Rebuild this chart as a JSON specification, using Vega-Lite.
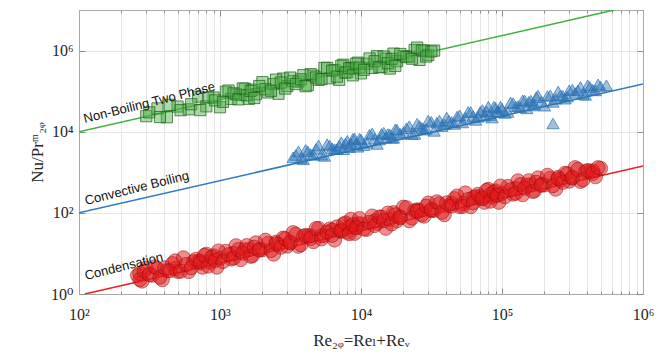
{
  "$schema": "https://vega.github.io/schema/vega-lite/v6.json",
  "width": 564,
  "height": 284,
  "autosize": {"type": "none"},
  "padding": {"left": 79, "top": 10, "right": 26, "bottom": 65},
  "background": "white",
  "config": {
    "view": {"stroke": "#a8a8a8", "strokeWidth": 1},
    "axis": {
      "domainColor": "#a8a8a8",
      "tickColor": "#8c8c8c",
      "gridColor": "#e6e6e6",
      "labelFont": "Liberation Serif, DejaVu Serif, serif",
      "labelFontSize": 16,
      "labelColor": "#262626",
      "titleFont": "Liberation Serif, DejaVu Serif, serif",
      "titleFontSize": 17,
      "titleFontWeight": "normal",
      "titleColor": "#262626",
      "labelOverlap": false,
      "labelFlush": false
    }
  },
  "datasets": {
    "lines": [
      {"s": "g", "x": 100, "y": 10000},
      {"s": "g", "x": 625000, "y": 10000000},
      {"s": "b", "x": 100, "y": 100},
      {"s": "b", "x": 1000000, "y": 150000},
      {"s": "r", "x": 110, "y": 1},
      {"s": "r", "x": 1000000, "y": 1430}
    ],
    "labels": [
      {"t": "Non-Boiling Two Phase", "x": 110, "y": 16400},
      {"t": "Convective Boiling", "x": 112, "y": 156},
      {"t": "Condensation", "x": 112, "y": 2.2}
    ],
    "cond": [
      {"x": 260, "y": 2.89}, {"x": 280, "y": 2.08}, {"x": 300, "y": 4.36}, {"x": 330, "y": 2.9}, {"x": 360, "y": 4.22}, {"x": 390, "y": 2.25}, {"x": 420, "y": 3.78}, {"x": 460, "y": 5.62}, {"x": 500, "y": 3.61}, {"x": 550, "y": 7.79}, {"x": 600, "y": 3.57}, {"x": 650, "y": 6.28}, {"x": 700, "y": 6.37}, {"x": 750, "y": 4.57}, {"x": 800, "y": 9.56}, {"x": 850, "y": 6.18}, {"x": 900, "y": 8.77}, {"x": 950, "y": 4.58},
      {"x": 1000, "y": 7.57}, {"x": 1100, "y": 11.3}, {"x": 1200, "y": 7.27}, {"x": 1300, "y": 15.5}, {"x": 1400, "y": 7.04}, {"x": 1500, "y": 12.3}, {"x": 1600, "y": 12.4}, {"x": 1700, "y": 8.8}, {"x": 1800, "y": 18.3}, {"x": 2000, "y": 12.3}, {"x": 2200, "y": 17.9}, {"x": 2400, "y": 9.61}, {"x": 2600, "y": 16.3}, {"x": 2800, "y": 23.8}, {"x": 3000, "y": 15.1}, {"x": 3300, "y": 32.6}, {"x": 3600, "y": 15.0}, {"x": 3900, "y": 26.3}, {"x": 4200, "y": 26.7}, {"x": 4600, "y": 19.5}, {"x": 5000, "y": 41.4}, {"x": 5500, "y": 27.5}, {"x": 6000, "y": 40.0}, {"x": 6500, "y": 21.3}, {"x": 7000, "y": 35.9}, {"x": 7500, "y": 52.4}, {"x": 8000, "y": 33.2}, {"x": 8500, "y": 69.6}, {"x": 9000, "y": 31.2}, {"x": 9500, "y": 53.6},
      {"x": 10000, "y": 53.5}, {"x": 11000, "y": 39.2}, {"x": 12000, "y": 83.5}, {"x": 13000, "y": 54.9}, {"x": 14000, "y": 78.8}, {"x": 15000, "y": 41.6}, {"x": 16000, "y": 69.6}, {"x": 17000, "y": 101}, {"x": 18000, "y": 63.5}, {"x": 20000, "y": 138}, {"x": 22000, "y": 63.7}, {"x": 24000, "y": 113}, {"x": 26000, "y": 115}, {"x": 28000, "y": 82.8}, {"x": 30000, "y": 174}, {"x": 33000, "y": 115}, {"x": 36000, "y": 168}, {"x": 39000, "y": 89.5}, {"x": 42000, "y": 151}, {"x": 46000, "y": 224}, {"x": 50000, "y": 144}, {"x": 55000, "y": 310}, {"x": 60000, "y": 142}, {"x": 65000, "y": 250}, {"x": 70000, "y": 254}, {"x": 75000, "y": 182}, {"x": 80000, "y": 381}, {"x": 85000, "y": 246}, {"x": 90000, "y": 349}, {"x": 95000, "y": 182},
      {"x": 100000, "y": 301}, {"x": 110000, "y": 448}, {"x": 120000, "y": 289}, {"x": 130000, "y": 617}, {"x": 140000, "y": 280}, {"x": 150000, "y": 487}, {"x": 160000, "y": 491}, {"x": 170000, "y": 350}, {"x": 180000, "y": 727}, {"x": 200000, "y": 487}, {"x": 220000, "y": 712}, {"x": 240000, "y": 382}, {"x": 260000, "y": 647}, {"x": 280000, "y": 947}, {"x": 300000, "y": 602}, {"x": 330000, "y": 1298}, {"x": 360000, "y": 596}, {"x": 390000, "y": 1047}, {"x": 420000, "y": 1062}, {"x": 460000, "y": 776}, {"x": 500000, "y": 1250},
      {"x": 270, "y": 3.19}, {"x": 480, "y": 4.21}, {"x": 725, "y": 6.44},
      {"x": 1250, "y": 9.96}, {"x": 1900, "y": 12.6}, {"x": 2500, "y": 18.9}, {"x": 3150, "y": 18.0}, {"x": 4400, "y": 27.2}, {"x": 5250, "y": 27.1}, {"x": 6250, "y": 37.7}, {"x": 7250, "y": 35.1}, {"x": 8250, "y": 45.0}, {"x": 9250, "y": 44.9},
      {"x": 12500, "y": 62.9}, {"x": 19000, "y": 79.9}, {"x": 25000, "y": 119}, {"x": 31500, "y": 114}, {"x": 44000, "y": 172}, {"x": 52500, "y": 171}, {"x": 62500, "y": 238}, {"x": 72500, "y": 221}, {"x": 82500, "y": 284}, {"x": 92500, "y": 284},
      {"x": 125000, "y": 396}, {"x": 190000, "y": 503}, {"x": 250000, "y": 752}, {"x": 315000, "y": 716}, {"x": 440000, "y": 1083},
      {"x": 270, "y": 2.26}, {"x": 290, "y": 3.66}, {"x": 315, "y": 3.0}, {"x": 345, "y": 4.69}, {"x": 375, "y": 2.59}, {"x": 405, "y": 4.41}, {"x": 440, "y": 3.73}, {"x": 480, "y": 6.53}, {"x": 525, "y": 3.62}, {"x": 575, "y": 5.35}, {"x": 625, "y": 4.42}, {"x": 675, "y": 7.19}, {"x": 725, "y": 5.85}, {"x": 775, "y": 8.95}, {"x": 825, "y": 4.87}, {"x": 875, "y": 8.16}, {"x": 925, "y": 6.76}, {"x": 975, "y": 11.5},
      {"x": 1050, "y": 6.3}, {"x": 1150, "y": 9.31}, {"x": 1250, "y": 7.7}, {"x": 1350, "y": 12.5}, {"x": 1450, "y": 10.2}, {"x": 1550, "y": 15.6}, {"x": 1650, "y": 8.48}, {"x": 1750, "y": 14.2}, {"x": 1900, "y": 12.0}, {"x": 2100, "y": 21.2}, {"x": 2300, "y": 11.8}, {"x": 2500, "y": 17.3}, {"x": 2700, "y": 14.2}, {"x": 2900, "y": 23.1}, {"x": 3150, "y": 19.0}, {"x": 3450, "y": 29.6}, {"x": 3750, "y": 16.4}, {"x": 4050, "y": 27.8}, {"x": 4400, "y": 23.5}, {"x": 4800, "y": 41.2}, {"x": 5250, "y": 22.8}, {"x": 5750, "y": 33.7}, {"x": 6250, "y": 27.9}, {"x": 6750, "y": 45.3}, {"x": 7250, "y": 36.9}, {"x": 7750, "y": 56.5}, {"x": 8250, "y": 30.7}, {"x": 8750, "y": 51.5}, {"x": 9250, "y": 42.6}, {"x": 9750, "y": 72.5},
      {"x": 10500, "y": 39.8}, {"x": 11500, "y": 58.8}, {"x": 12500, "y": 48.6}, {"x": 13500, "y": 79.0}, {"x": 14500, "y": 64.3}, {"x": 15500, "y": 98.4}, {"x": 16500, "y": 53.5}, {"x": 17500, "y": 89.8}, {"x": 19000, "y": 75.9}, {"x": 21000, "y": 134}, {"x": 23000, "y": 74.5}, {"x": 25000, "y": 109}, {"x": 27000, "y": 89.9}, {"x": 29000, "y": 146}, {"x": 31500, "y": 120}, {"x": 34500, "y": 187}, {"x": 37500, "y": 103}, {"x": 40500, "y": 176}, {"x": 44000, "y": 148}, {"x": 48000, "y": 260}, {"x": 52500, "y": 144}, {"x": 57500, "y": 213}, {"x": 62500, "y": 176}, {"x": 67500, "y": 286}, {"x": 72500, "y": 233}, {"x": 77500, "y": 357}, {"x": 82500, "y": 194}, {"x": 87500, "y": 325}, {"x": 92500, "y": 269}, {"x": 97500, "y": 458},
      {"x": 105000, "y": 250}, {"x": 115000, "y": 370}, {"x": 125000, "y": 306}, {"x": 135000, "y": 497}, {"x": 145000, "y": 405}, {"x": 155000, "y": 620}, {"x": 165000, "y": 337}, {"x": 175000, "y": 565}, {"x": 190000, "y": 478}, {"x": 210000, "y": 844}, {"x": 230000, "y": 469}, {"x": 250000, "y": 689}, {"x": 270000, "y": 566}, {"x": 290000, "y": 917}, {"x": 315000, "y": 754}, {"x": 345000, "y": 1175}, {"x": 375000, "y": 650}, {"x": 405000, "y": 1106}, {"x": 440000, "y": 935}, {"x": 480000, "y": 1300}
    ],
    "conv": [
      {"x": 3300, "y": 2340}, {"x": 3600, "y": 3270}, {"x": 3900, "y": 2090}, {"x": 4200, "y": 3270}, {"x": 4600, "y": 2690}, {"x": 5000, "y": 4580}, {"x": 5500, "y": 2540}, {"x": 6000, "y": 4540}, {"x": 6500, "y": 3710}, {"x": 7000, "y": 4490}, {"x": 7500, "y": 3710}, {"x": 8000, "y": 5950}, {"x": 8500, "y": 5000}, {"x": 9000, "y": 6800}, {"x": 9500, "y": 4260},
      {"x": 10000, "y": 6450}, {"x": 11000, "y": 5330}, {"x": 12000, "y": 9090}, {"x": 13000, "y": 4990}, {"x": 14000, "y": 8820}, {"x": 15000, "y": 7140}, {"x": 16000, "y": 8590}, {"x": 17000, "y": 7040}, {"x": 18000, "y": 11220}, {"x": 20000, "y": 9770}, {"x": 22000, "y": 13700}, {"x": 24000, "y": 8820}, {"x": 26000, "y": 13870}, {"x": 28000, "y": 11250}, {"x": 30000, "y": 18920}, {"x": 33000, "y": 10490}, {"x": 36000, "y": 18780}, {"x": 39000, "y": 15350}, {"x": 42000, "y": 18560}, {"x": 46000, "y": 15610}, {"x": 50000, "y": 25420}, {"x": 55000, "y": 21940}, {"x": 60000, "y": 30590}, {"x": 65000, "y": 19570}, {"x": 70000, "y": 30610}, {"x": 75000, "y": 24750}, {"x": 80000, "y": 41470}, {"x": 85000, "y": 22380}, {"x": 90000, "y": 39060}, {"x": 95000, "y": 31260},
      {"x": 100000, "y": 36650}, {"x": 110000, "y": 30880}, {"x": 120000, "y": 50480}, {"x": 130000, "y": 43070}, {"x": 140000, "y": 59390}, {"x": 150000, "y": 37650}, {"x": 160000, "y": 58480}, {"x": 170000, "y": 46960}, {"x": 180000, "y": 78180}, {"x": 200000, "y": 43750}, {"x": 220000, "y": 78650}, {"x": 240000, "y": 64690}, {"x": 260000, "y": 78750}, {"x": 280000, "y": 65220}, {"x": 300000, "y": 105000}, {"x": 330000, "y": 90640}, {"x": 360000, "y": 126500}, {"x": 390000, "y": 80900}, {"x": 420000, "y": 126400}, {"x": 460000, "y": 104200}, {"x": 500000, "y": 130000}, {"x": 550000, "y": 140000},
      {"x": 230000, "y": 16000},
      {"x": 3450, "y": 2670}, {"x": 3750, "y": 2210}, {"x": 4050, "y": 3590}, {"x": 4400, "y": 2800}, {"x": 4800, "y": 3800}, {"x": 5250, "y": 2720}, {"x": 5750, "y": 4930}, {"x": 6250, "y": 3910}, {"x": 6750, "y": 3740}, {"x": 7250, "y": 5500}, {"x": 7750, "y": 5110}, {"x": 8250, "y": 4150}, {"x": 8750, "y": 6650}, {"x": 9250, "y": 5080}, {"x": 9750, "y": 6690},
      {"x": 10500, "y": 4670}, {"x": 11500, "y": 8470}, {"x": 12500, "y": 6710}, {"x": 13500, "y": 6420}, {"x": 14500, "y": 9440}, {"x": 15500, "y": 8770}, {"x": 16500, "y": 7120}, {"x": 17500, "y": 11420}, {"x": 19000, "y": 8910}, {"x": 21000, "y": 12190}, {"x": 23000, "y": 8740}, {"x": 25000, "y": 15770}, {"x": 27000, "y": 12420}, {"x": 29000, "y": 11840}, {"x": 31500, "y": 17570}, {"x": 34500, "y": 16620}, {"x": 37500, "y": 13740}, {"x": 40500, "y": 22340}, {"x": 44000, "y": 17430}, {"x": 48000, "y": 23630}, {"x": 52500, "y": 16910}, {"x": 57500, "y": 30700}, {"x": 62500, "y": 24310}, {"x": 67500, "y": 23270}, {"x": 72500, "y": 34210}, {"x": 77500, "y": 31770}, {"x": 82500, "y": 25800}, {"x": 87500, "y": 41370}, {"x": 92500, "y": 31600}, {"x": 97500, "y": 41630},
      {"x": 105000, "y": 29040}, {"x": 115000, "y": 52680}, {"x": 125000, "y": 41740}, {"x": 135000, "y": 39920}, {"x": 145000, "y": 58720}, {"x": 155000, "y": 54510}, {"x": 165000, "y": 44290}, {"x": 175000, "y": 71000}, {"x": 190000, "y": 55400}, {"x": 210000, "y": 75800}, {"x": 230000, "y": 54360}, {"x": 250000, "y": 98050}, {"x": 270000, "y": 77270}, {"x": 290000, "y": 73630}, {"x": 315000, "y": 109200}, {"x": 345000, "y": 103400}, {"x": 375000, "y": 85430}, {"x": 405000, "y": 139000}, {"x": 440000, "y": 108400}, {"x": 480000, "y": 146900}
    ],
    "nb": [
      {"x": 300, "y": 24100}, {"x": 360, "y": 37600}, {"x": 420, "y": 22700}, {"x": 500, "y": 41700}, {"x": 600, "y": 35600}, {"x": 700, "y": 73500}, {"x": 800, "y": 42200}, {"x": 900, "y": 69600},
      {"x": 1000, "y": 40100}, {"x": 1100, "y": 96500}, {"x": 1200, "y": 64300}, {"x": 1300, "y": 83800}, {"x": 1400, "y": 80800}, {"x": 1500, "y": 115000}, {"x": 1600, "y": 64700}, {"x": 1700, "y": 108500}, {"x": 1800, "y": 83900}, {"x": 2000, "y": 166500}, {"x": 2200, "y": 92700}, {"x": 2400, "y": 149200}, {"x": 2600, "y": 86200}, {"x": 2800, "y": 203900}, {"x": 3000, "y": 133700}, {"x": 3300, "y": 176300}, {"x": 3600, "y": 172000}, {"x": 3900, "y": 247600}, {"x": 4200, "y": 140000}, {"x": 4600, "y": 240700}, {"x": 5000, "y": 190100}, {"x": 5500, "y": 373900}, {"x": 6000, "y": 207000}, {"x": 6500, "y": 331000}, {"x": 7000, "y": 190200}, {"x": 7500, "y": 448400}, {"x": 8000, "y": 293100}, {"x": 8500, "y": 376000}, {"x": 9000, "y": 357900}, {"x": 9500, "y": 504200},
      {"x": 10000, "y": 273600}, {"x": 11000, "y": 471500}, {"x": 12000, "y": 373700}, {"x": 13000, "y": 726800}, {"x": 14000, "y": 397900}, {"x": 15000, "y": 630600}, {"x": 16000, "y": 359900}, {"x": 17000, "y": 842500}, {"x": 18000, "y": 547200}, {"x": 20000, "y": 727800}, {"x": 22000, "y": 713600}, {"x": 24000, "y": 1033700}, {"x": 26000, "y": 588000}, {"x": 28000, "y": 995900}, {"x": 30000, "y": 777800}, {"x": 33000, "y": 1000000},
      {"x": 315, "y": 30000}, {"x": 375, "y": 23000}, {"x": 440, "y": 45800}, {"x": 525, "y": 33900}, {"x": 625, "y": 47600}, {"x": 725, "y": 34100}, {"x": 825, "y": 70300}, {"x": 925, "y": 59300},
      {"x": 1050, "y": 54500}, {"x": 1150, "y": 103500}, {"x": 1250, "y": 88500}, {"x": 1350, "y": 62700}, {"x": 1450, "y": 116300}, {"x": 1550, "y": 78800}, {"x": 1650, "y": 101300}, {"x": 1750, "y": 67600}, {"x": 1900, "y": 134000}, {"x": 2100, "y": 111700}, {"x": 2300, "y": 102100}, {"x": 2500, "y": 192600}, {"x": 2700, "y": 163900}, {"x": 2900, "y": 115700}, {"x": 3150, "y": 216300}, {"x": 3450, "y": 149500}, {"x": 3750, "y": 195500}, {"x": 4050, "y": 132300}, {"x": 4400, "y": 262300}, {"x": 4800, "y": 216400}, {"x": 5250, "y": 197500}, {"x": 5750, "y": 375000}, {"x": 6250, "y": 320700}, {"x": 6750, "y": 227400}, {"x": 7250, "y": 421300}, {"x": 7750, "y": 285800}, {"x": 8250, "y": 367100}, {"x": 8750, "y": 244900}, {"x": 9250, "y": 475500}, {"x": 9750, "y": 381400},
      {"x": 10500, "y": 335900}, {"x": 11500, "y": 637300}, {"x": 12500, "y": 545400}, {"x": 13500, "y": 386400}, {"x": 14500, "y": 716100}, {"x": 15500, "y": 485600}, {"x": 16500, "y": 624100}, {"x": 17500, "y": 416300}, {"x": 19000, "y": 825500}, {"x": 21000, "y": 687800}, {"x": 23000, "y": 628900}, {"x": 25000, "y": 1186000}, {"x": 27000, "y": 1009600}, {"x": 29000, "y": 712600}, {"x": 31500, "y": 951500}
    ]
  },
  "resolve": {"axis": {"x": "independent", "y": "independent"}},
  "layer": [
    {
      "data": {"name": "lines"},
      "mark": {"type": "line", "strokeWidth": 1.5, "clip": true},
      "encoding": {
        "x": {
          "field": "x", "type": "quantitative",
          "scale": {"type": "log", "domain": [100, 1000000], "nice": false},
          "axis": {
            "orient": "bottom",
            "title": "Re₂ᵩ=Reₗ+Reᵥ",
            "values": [100, 200, 300, 400, 500, 600, 700, 800, 900, 1000, 2000, 3000, 4000, 5000, 6000, 7000, 8000, 9000, 10000, 20000, 30000, 40000, 50000, 60000, 70000, 80000, 90000, 100000, 200000, 300000, 400000, 500000, 600000, 700000, 800000, 900000, 1000000],
            "labelExpr": "indexof([100,1000,10000,100000,1000000], datum.value) >= 0 ? '10' + ['⁰','¹','²','³','⁴','⁵','⁶','⁷'][round(log(datum.value)/LN10)] : ''",
            "grid": true,
            "tickSize": {"condition": {"test": "indexof([100,1000,10000,100000,1000000], datum.value) >= 0", "value": -6}, "value": -3},
            "labelPadding": 18,
            "titleBaseline": "alphabetic",
            "titleY": 51
          }
        },
        "y": {
          "field": "y", "type": "quantitative",
          "scale": {"type": "log", "domain": [1, 10000000], "nice": false},
          "axis": {
            "orient": "left",
            "title": "Nu/Prᵐ₂ᵩ",
            "values": [1, 100, 10000, 1000000],
            "labelExpr": "'10' + ['⁰','¹','²','³','⁴','⁵','⁶','⁷'][round(log(datum.value)/LN10)]",
            "grid": true,
            "tickSize": -6,
            "labelPadding": 12,
            "titleBaseline": "alphabetic",
            "titleX": -37
          }
        },
        "color": {
          "field": "s", "type": "nominal",
          "scale": {"domain": ["g", "b", "r"], "range": ["#3cb43c", "#2f7bbf", "#ee1c1c"]},
          "legend": null
        }
      }
    },
    {
      "data": {"name": "nb"},
      "mark": {"type": "point", "shape": "square", "size": 125, "filled": true, "fill": "#4cae44", "fillOpacity": 0.45, "stroke": "#1d5e1a", "strokeOpacity": 0.7, "strokeWidth": 1},
      "encoding": {
        "x": {"field": "x", "type": "quantitative", "scale": {"type": "log", "domain": [100, 1000000], "nice": false}, "axis": null},
        "y": {"field": "y", "type": "quantitative", "scale": {"type": "log", "domain": [1, 10000000], "nice": false}, "axis": null}
      }
    },
    {
      "data": {"name": "conv"},
      "mark": {"type": "point", "shape": "triangle-up", "size": 150, "filled": true, "fill": "#2c74b5", "fillOpacity": 0.45, "stroke": "#2c74b5", "strokeOpacity": 0.7, "strokeWidth": 1},
      "encoding": {
        "x": {"field": "x", "type": "quantitative", "scale": {"type": "log", "domain": [100, 1000000], "nice": false}, "axis": null},
        "y": {"field": "y", "type": "quantitative", "scale": {"type": "log", "domain": [1, 10000000], "nice": false}, "axis": null}
      }
    },
    {
      "data": {"name": "cond"},
      "mark": {"type": "circle", "size": 200, "fill": "#e31a1c", "fillOpacity": 0.5, "stroke": "#8e0808", "strokeOpacity": 0.5, "strokeWidth": 1},
      "encoding": {
        "x": {"field": "x", "type": "quantitative", "scale": {"type": "log", "domain": [100, 1000000], "nice": false}, "axis": null},
        "y": {"field": "y", "type": "quantitative", "scale": {"type": "log", "domain": [1, 10000000], "nice": false}, "axis": null}
      }
    },
    {
      "data": {"name": "labels"},
      "mark": {"type": "text", "align": "left", "baseline": "alphabetic", "angle": 346, "font": "Liberation Sans, Arial, sans-serif", "fontSize": 13, "color": "#111111"},
      "encoding": {
        "x": {"field": "x", "type": "quantitative", "scale": {"type": "log", "domain": [100, 1000000], "nice": false}, "axis": null},
        "y": {"field": "y", "type": "quantitative", "scale": {"type": "log", "domain": [1, 10000000], "nice": false}, "axis": null},
        "text": {"field": "t", "type": "nominal"}
      }
    },
    {
      "data": {"name": "lines"},
      "mark": {"type": "point", "opacity": 0},
      "encoding": {
        "x": {
          "field": "x", "type": "quantitative",
          "scale": {"type": "log", "domain": [100, 1000000], "nice": false},
          "axis": {
            "orient": "top", "title": null, "labels": false, "grid": false,
            "values": [100, 200, 300, 400, 500, 600, 700, 800, 900, 1000, 2000, 3000, 4000, 5000, 6000, 7000, 8000, 9000, 10000, 20000, 30000, 40000, 50000, 60000, 70000, 80000, 90000, 100000, 200000, 300000, 400000, 500000, 600000, 700000, 800000, 900000, 1000000],
            "tickSize": {"condition": {"test": "indexof([100,1000,10000,100000,1000000], datum.value) >= 0", "value": -6}, "value": -3}
          }
        },
        "y": {
          "field": "y", "type": "quantitative",
          "scale": {"type": "log", "domain": [1, 10000000], "nice": false},
          "axis": {
            "orient": "right", "title": null, "labels": false, "grid": false,
            "values": [1, 100, 10000, 1000000],
            "tickSize": -6
          }
        }
      }
    }
  ]
}
